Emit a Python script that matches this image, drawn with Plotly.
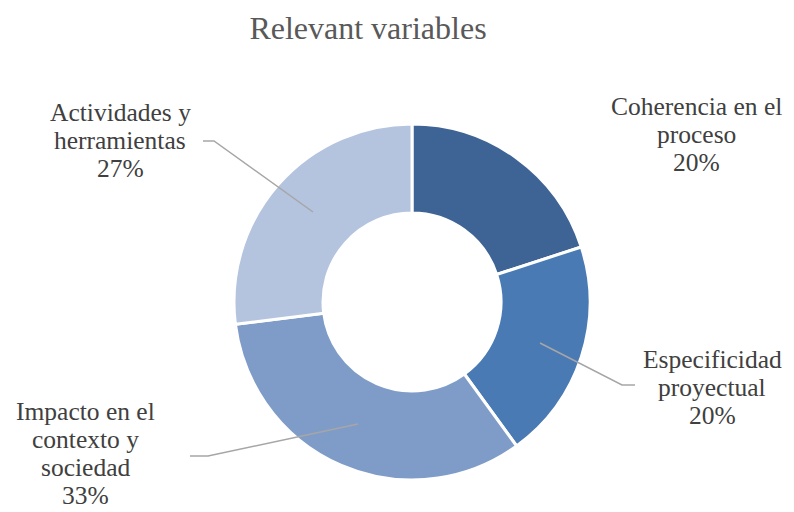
import plotly.graph_objects as go

categories = ['Coherencia en el proceso', 'Especificidad proyectual',
              'Impacto en el contexto y sociedad', 'Actividades y herramientas']
label_lines = [['Coherencia en el', 'proceso'],
               ['Especificidad', 'proyectual'],
               ['Impacto en el', 'contexto y', 'sociedad'],
               ['Actividades y', 'herramientas']]
values = [20, 20, 33, 27]
colors = ['#3E6395', '#4A7AB4', '#7F9CC8', '#B4C3DE']

W, H = 794, 512
OFF = 8  # page body margin
FONT = 'Times New Roman, Liberation Serif, serif'


def px(x, y):
    # screen pixel -> paper coordinates
    return (x - OFF) / W, 1 - (y - OFF) / H


cx, cy, r = 412, 302, 178
x0, y0 = px(cx - r, cy + r)
x1, y1 = px(cx + r, cy - r)

fig = go.Figure()
fig.add_trace(go.Pie(
    labels=categories,
    values=values,
    hole=0.5,
    sort=False,
    direction='clockwise',
    rotation=0,
    textinfo='none',
    hoverinfo='label+percent',
    marker=dict(colors=colors, line=dict(color='white', width=3)),
    domain=dict(x=[x0, x1], y=[y0, y1]),
    showlegend=False,
))

# data labels, one annotation per line to get Excel-like tight line spacing
total = sum(values)
label_pos = [(696, 106), (712, 359), (85, 411), (120, 112)]
line_gap = 28
for lines, v, (lx, ly) in zip(label_lines, values, label_pos):
    for i, line in enumerate(lines + [f'{round(100 * v / total)}%']):
        ax, ay = px(lx, ly + i * line_gap)
        fig.add_annotation(
            x=ax, y=ay, xref='paper', yref='paper',
            text=line, showarrow=False, align='center',
            xanchor='center', yanchor='middle',
            font=dict(family=FONT, size=25.5, color='#404040'),
        )

# leader lines
leaders = [
    [(203, 141), (214, 141), (313, 212)],
    [(540, 343), (622, 385), (635, 385)],
    [(358, 424), (208, 456), (190, 456)],
]
for pts in leaders:
    path = 'M ' + ' L '.join('{} {}'.format(*px(x, y)) for x, y in pts)
    fig.add_shape(type='path', path=path, xref='paper', yref='paper',
                  line=dict(color='#A6A6A6', width=1.5))

tx, ty = px(368, 28)
fig.update_layout(
    width=W, height=H,
    margin=dict(l=0, r=0, t=0, b=0),
    paper_bgcolor='white',
    plot_bgcolor='white',
    title=dict(text='Relevant variables', x=tx, y=ty,
               xanchor='center', yanchor='middle',
               font=dict(family=FONT, size=32, color='#595959')),
)

fig.write_html('out.html')
